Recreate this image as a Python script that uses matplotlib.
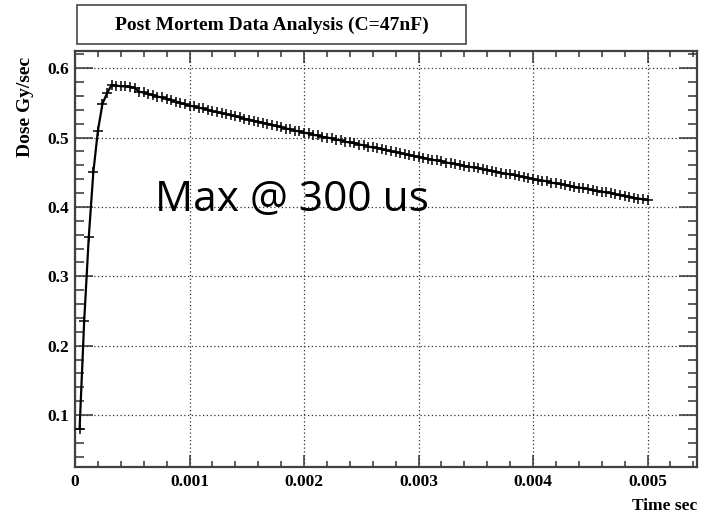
#! /usr/bin/env python3

"""
Post mortem dose rate vs time, redrawn from the ROOT canvas.
"""
import numpy as np
from matplotlib import pyplot as plt
from matplotlib.patches import Rectangle
from matplotlib.ticker import MultipleLocator, FuncFormatter

# sample times, one point every 40 us
time_step = 0.00004
n_points = 125

dose = [
    0.080, 0.235, 0.356, 0.450, 0.510, 0.549, 0.564, 0.576, 0.575, 0.574,
    0.574, 0.573, 0.572, 0.566, 0.565, 0.563, 0.561, 0.559, 0.558, 0.556,
    0.554, 0.552, 0.550, 0.548, 0.546, 0.545, 0.543, 0.542, 0.540, 0.538,
    0.537, 0.535, 0.534, 0.532, 0.531, 0.529, 0.527, 0.526, 0.524, 0.523,
    0.521, 0.520, 0.518, 0.517, 0.515, 0.513, 0.512, 0.510, 0.509, 0.507,
    0.506, 0.504, 0.503, 0.501, 0.500, 0.499, 0.497, 0.496, 0.494, 0.493,
    0.492, 0.490, 0.489, 0.487, 0.486, 0.485, 0.483, 0.482, 0.480, 0.479,
    0.478, 0.476, 0.475, 0.473, 0.472, 0.471, 0.469, 0.468, 0.467, 0.466,
    0.464, 0.463, 0.462, 0.461, 0.459, 0.458, 0.457, 0.456, 0.454, 0.453,
    0.452, 0.451, 0.449, 0.448, 0.447, 0.446, 0.444, 0.443, 0.442, 0.440,
    0.439, 0.438, 0.437, 0.435, 0.434, 0.433, 0.432, 0.430, 0.429, 0.428,
    0.427, 0.426, 0.424, 0.423, 0.422, 0.421, 0.420, 0.418, 0.417, 0.416,
    0.415, 0.413, 0.412, 0.411, 0.410,
]

x_ticks = [0, 0.001, 0.002, 0.003, 0.004, 0.005]
y_ticks = [0.1, 0.2, 0.3, 0.4, 0.5, 0.6]

title = "Post Mortem Data Analysis (C=47nF)"
note = "Max @ 300 us"


def main():
    serif = "Liberation Serif"
    time = time_step * np.arange(1, n_points + 1)

    fig = plt.figure(figsize=(7.01, 5.14), dpi=100)
    ax = fig.add_axes([0.107, 0.0914, 0.887, 0.8096])

    ax.plot(time, dose, color="black", lw=1.6, marker="+", markersize=7,
            markeredgewidth=1.1, zorder=3)

    ax.set_xlim(0, 0.00543)
    ax.set_ylim(0.025, 0.625)

    ax.set_xticks(x_ticks)
    ax.set_yticks(y_ticks)
    ax.xaxis.set_minor_locator(MultipleLocator(0.0002))
    ax.yaxis.set_minor_locator(MultipleLocator(0.02))
    ax.xaxis.set_major_formatter(FuncFormatter(lambda v, p: "0" if v == 0 else "%g" % v))
    ax.yaxis.set_major_formatter(FuncFormatter(lambda v, p: "%g" % v))

    # ROOT style ticks: inside, on all four sides
    ax.tick_params(axis="both", which="both", direction="in", top=True, right=True,
                   color="#333333", width=1.1)
    ax.tick_params(axis="x", which="major", length=8.6, pad=5)
    ax.tick_params(axis="x", which="minor", length=4.3)
    ax.tick_params(axis="y", which="major", length=13, pad=4)
    ax.tick_params(axis="y", which="minor", length=6.5)

    for lab in ax.get_xticklabels() + ax.get_yticklabels():
        lab.set_fontfamily(serif)
        lab.set_fontweight("bold")
        lab.set_fontsize(12.5)

    for s in ax.spines.values():
        s.set_color("#404040")
        s.set_linewidth(1.6)

    ax.grid(True, which="major", color="#333333", linestyle=(0, (1, 2)), lw=0.9)

    ax.set_ylabel("Dose Gy/sec", fontfamily=serif, fontweight="bold", fontsize=14,
                  loc="top")
    ax.yaxis.set_label_coords(-0.066, 0.985)
    ax.set_xlabel("Time sec", fontfamily=serif, fontweight="bold", fontsize=12.5,
                  loc="right")
    ax.xaxis.set_label_coords(1.0, -0.075)

    ax.text(0.000699, 0.394, note, fontfamily="Open Sans", fontsize=30.5,
            va="baseline", ha="left", zorder=4)

    # title box
    fig.patches.append(Rectangle((0.110, 0.914), 0.555, 0.076, transform=fig.transFigure,
                                 facecolor="white", edgecolor="#555555", lw=1.3))
    fig.text(0.3875, 0.951, title, fontfamily=serif, fontweight="bold", fontsize=14,
             ha="center", va="center")

    fig.savefig("out.png", dpi=100)


if __name__ == '__main__':
    main()
